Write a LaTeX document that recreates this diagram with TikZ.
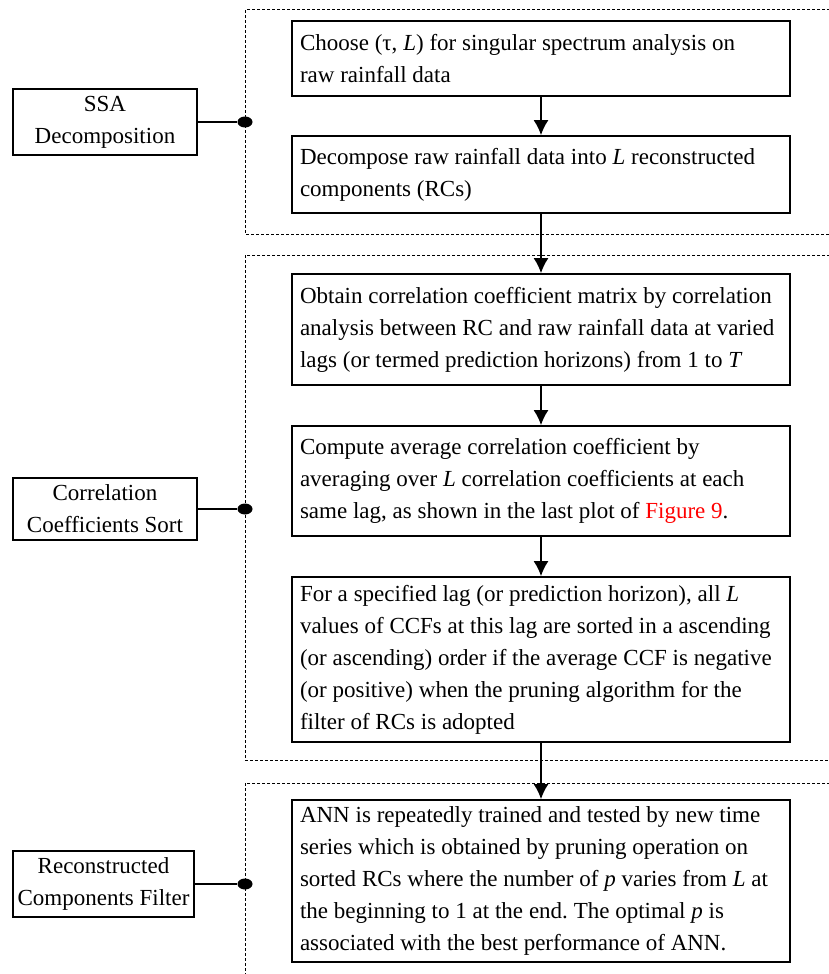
\documentclass[tikz,border=0pt]{standalone}
\usepackage{fontspec}
\setmainfont{Liberation Serif}
\usepackage{xcolor}
\usetikzlibrary{arrows.meta,shapes.geometric}

\begin{document}
\begin{tikzpicture}[
    x=0.5pt,
    y=-0.5pt,
    >={Latex[length=7.5pt,width=7.5pt]},
    font=\fontsize{11.5}{16}\selectfont,
    process/.style={
		rectangle,
		draw=black,
		line width=0.8pt,
		align=left,
		text width=241pt,
		inner xsep=4pt,
		inner ysep=2pt,
		execute at begin node={\frenchspacing\spaceskip=2.9pt plus 0.3pt\relax
		  \hyphenpenalty=10000\exhyphenpenalty=10000}
	},
	phase/.style={
		rectangle,
		draw=black,
		line width=0.8pt,
		align=center,
		minimum width=92pt,
		minimum height=31pt,
		inner xsep=1pt
	},
	joint/.style={
		ellipse,
		fill=black,
		inner sep=0pt,
		minimum width=7.5pt,
		minimum height=5.5pt
	},
	stage/.style={
		draw=black,
		line width=0.5pt,
		dash pattern=on 1.5pt off 1pt
	}
  ]

\path[use as bounding box] (0,0) rectangle (829,974);
\clip (0,0) rectangle (829,974);

% // The stages
\draw [stage] (860,10) -- (245,10) -- (245,234) -- (860,234);
\draw [stage] (860,255) -- (245,255) -- (245,760) -- (860,760);
\draw [stage] (860,783) -- (245,783) -- (245,1000);

% // The steps
\node [process, minimum height=37.5pt] (choose) at (541,58.5)
 {Choose (τ, \textit{L}) for singular spectrum analysis on\\
  raw rainfall data};
\node [process, minimum height=38.5pt] (decomp) at (541,174.5)
 {Decompose raw rainfall data into \textit{L} reconstructed\\
  components (RCs)};
\node [process, minimum height=55.5pt] (corrmat) at (541,329.5)
 {Obtain correlation coefficient matrix by correlation\\
  analysis between RC and raw rainfall data at varied\\
  lags (or termed prediction horizons) from 1 to \textit{T}};
\node [process, minimum height=55pt] (avgcorr) at (541,481)
 {Compute average correlation coefficient by\\
  averaging over \textit{L} correlation coefficients at each\\
  same lag, as shown in the last plot of \textcolor{red}{Figure 9}.};
\node [process, minimum height=82.5pt] (sortccf) at (541,659.5)
 {For a specified lag (or prediction horizon), all \textit{L}\\
  values of CCFs at this lag are sorted in a ascending\\
  (or ascending) order if the average CCF is negative\\
  (or positive) when the pruning algorithm for the\\
  filter of RCs is adopted};
\node [process, minimum height=81pt] (annfilter) at (541,881)
 {ANN is repeatedly trained and tested by new time\\
  series which is obtained by pruning operation on\\
  sorted RCs where the number of \textit{p} varies from \textit{L} at\\
  the beginning to 1 at the end. The optimal \textit{p} is\\
  associated with the best performance of ANN.};

 \draw [->, line width=1pt] (choose) -- (decomp);
 \draw [->, line width=1pt] (decomp) -- (corrmat);
 \draw [->, line width=1pt] (corrmat) -- (avgcorr);
 \draw [->, line width=1pt] (avgcorr) -- (sortccf);
 \draw [->, line width=1pt] (sortccf) -- (annfilter);

% // The phases
\node [phase] (ssalabel) at (105,122) {SSA\\Decomposition};
\node [phase] (corrlabel) at (105,509) {Correlation\\Coefficients Sort};
\node [phase, minimum width=90.5pt] (filterlabel) at (103.5,884) {Reconstructed\\Components Filter};

\node [joint] (dotssa) at (245,122) {};
\node [joint] (dotcorr) at (245,509) {};
\node [joint] (dotfilter) at (245,884) {};

 \draw [line width=0.8pt] (ssalabel) -- (dotssa);
 \draw [line width=0.8pt] (corrlabel) -- (dotcorr);
 \draw [line width=0.8pt] (filterlabel) -- (dotfilter);

\end{tikzpicture}
\end{document}
